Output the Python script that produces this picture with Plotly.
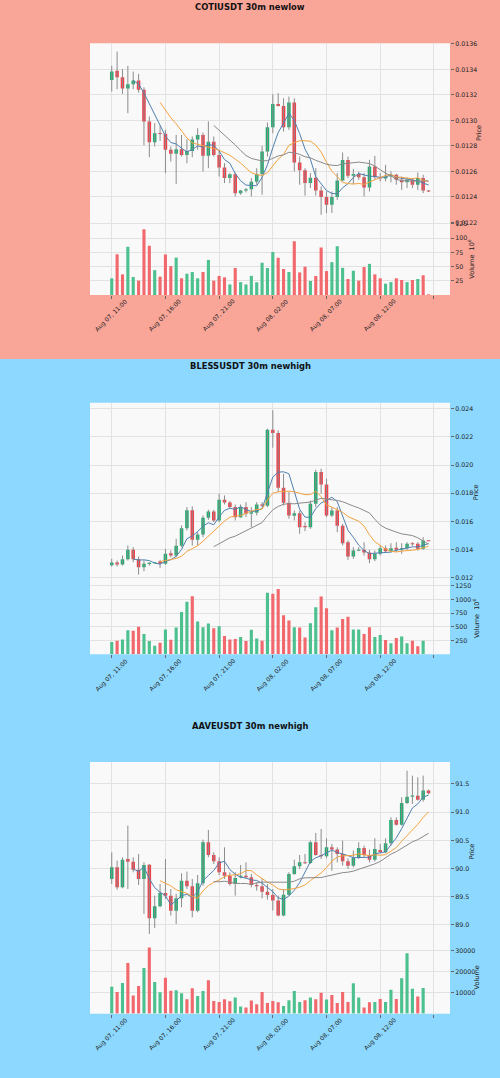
import pandas as pd
import plotly.graph_objects as go

W, H = 500, 1078
SEC = H / 3.0

# ---------------- data ----------------
tick_index = [0, 10, 20, 30, 40, 50, 60]
tick_text = ["Aug 07, 11:00", "Aug 07, 16:00", "Aug 07, 21:00",
             "Aug 08, 02:00", "Aug 08, 07:00", "Aug 08, 12:00", ""]
ma_windows = [5, 10, 20]

coti_open = [0.013318, 0.013389, 0.013339, 0.01325, 0.013284, 0.013313, 0.01324, 0.012992, 0.01283, 0.012902,
             0.012895, 0.01277, 0.01274, 0.012775, 0.01273, 0.01276, 0.01285, 0.012887, 0.012723, 0.012834,
             0.01273, 0.012631, 0.012548, 0.012579, 0.01243, 0.01245, 0.01246, 0.01252, 0.01258, 0.012757,
             0.012947, 0.01313, 0.013114, 0.012947, 0.01314, 0.01267, 0.01261, 0.01251, 0.01255, 0.01245,
             0.0124, 0.01234, 0.0124, 0.01253, 0.01269, 0.012566, 0.01258, 0.012555, 0.012475, 0.01264,
             0.012555, 0.012545, 0.01256, 0.012575, 0.012535, 0.012516, 0.012535, 0.012495, 0.012548, 0.01245]
coti_high = [0.013428, 0.01354, 0.013404, 0.013428, 0.013383, 0.013365, 0.01326, 0.013031, 0.012979, 0.01296,
             0.012926, 0.012796, 0.012887, 0.012887, 0.012853, 0.012874, 0.012939, 0.012905, 0.012992, 0.012874,
             0.01277, 0.012665, 0.012587, 0.012592, 0.012456, 0.01247, 0.012548, 0.012626, 0.012801, 0.012984,
             0.013206, 0.013214, 0.013174, 0.013187, 0.013174, 0.012717, 0.012626, 0.012587, 0.012626, 0.012483,
             0.012443, 0.012443, 0.012587, 0.012749, 0.012717, 0.01262, 0.0126, 0.012587, 0.012691, 0.012723,
             0.012587, 0.012652, 0.0126, 0.012582, 0.012561, 0.012553, 0.012548, 0.012592, 0.012574, 0.012455]
coti_low = [0.013227, 0.013245, 0.013208, 0.013057, 0.013245, 0.013219, 0.012806, 0.012712, 0.012796, 0.01284,
            0.012587, 0.012678, 0.012503, 0.012717, 0.012665, 0.012712, 0.01277, 0.0126, 0.012626, 0.012717,
            0.012561, 0.012509, 0.012509, 0.012404, 0.012417, 0.012436, 0.012404, 0.012496, 0.012417, 0.012717,
            0.0129, 0.013109, 0.012913, 0.012926, 0.0126, 0.012496, 0.01241, 0.01247, 0.01241, 0.012261,
            0.012274, 0.012274, 0.012378, 0.012522, 0.012548, 0.0125, 0.012535, 0.012404, 0.012443, 0.012535,
            0.012522, 0.012522, 0.012514, 0.012496, 0.012456, 0.01247, 0.01247, 0.012456, 0.01243, 0.01244]
coti_close = [0.013383, 0.013339, 0.01325, 0.013284, 0.013313, 0.01324, 0.012992, 0.01283, 0.0129, 0.012895,
              0.01277, 0.01274, 0.012775, 0.01273, 0.01276, 0.01285, 0.012887, 0.012723, 0.012834, 0.01273,
              0.012631, 0.012548, 0.012579, 0.01243, 0.01245, 0.01246, 0.01252, 0.01258, 0.012757, 0.012947,
              0.01313, 0.013114, 0.012947, 0.01314, 0.01267, 0.01261, 0.01251, 0.01255, 0.01245, 0.0124,
              0.01234, 0.0124, 0.01253, 0.01269, 0.012566, 0.01258, 0.012555, 0.012475, 0.01264, 0.012555,
              0.012545, 0.01256, 0.012575, 0.012535, 0.012516, 0.012535, 0.012495, 0.012548, 0.01245, 0.012445]
coti_volume = [29.7, 72, 36.6, 85, 32, 25.6, 115.7, 86.6, 44, 32.6,
               71.5, 51, 66, 29.7, 37.8, 40.7, 29.7, 40.7, 62, 25.6,
               33.7, 31.4, 19, 47.7, 23, 19, 34, 22.7, 57, 47.7,
               76, 65.7, 46, 40.7, 94.8, 40, 50, 25, 33.7, 83.7,
               42.4, 58, 86, 48, 28.5, 43, 25.6, 49.4, 55, 36.6,
               29.7, 20.3, 23, 29.7, 26.7, 23, 26.7, 28.5, 35, 1.5]

bless_open = [0.012899, 0.013088, 0.012946, 0.013325, 0.013988, 0.013325, 0.012757, 0.012994, 0.013065, 0.013159,
              0.012994, 0.013751, 0.013585, 0.014272, 0.015526, 0.016804, 0.014698, 0.015076, 0.01626, 0.01671,
              0.016071, 0.017538, 0.017349, 0.017017, 0.016307, 0.017017, 0.016544, 0.016615, 0.017207, 0.017112,
              0.022509, 0.022272, 0.01839, 0.017325, 0.016402, 0.016591, 0.015668, 0.015597, 0.017254, 0.019503,
              0.018627, 0.016426, 0.016781, 0.015692, 0.014532, 0.013514, 0.01394, 0.013988, 0.013798, 0.013325,
              0.013704, 0.014106, 0.013893, 0.01413, 0.013988, 0.014106, 0.014461, 0.014414, 0.014059, 0.01465]
bless_high = [0.013349, 0.01323, 0.013585, 0.014295, 0.014177, 0.013514, 0.01323, 0.013112, 0.013112, 0.013278,
              0.014059, 0.01394, 0.014769, 0.015716, 0.017017, 0.017065, 0.015242, 0.016426, 0.016828, 0.016828,
              0.017964, 0.017846, 0.017444, 0.017207, 0.017207, 0.017372, 0.017017, 0.017372, 0.017372, 0.02258,
              0.023882, 0.022461, 0.019384, 0.018082, 0.016781, 0.016781, 0.015952, 0.017491, 0.019668, 0.019739,
              0.019029, 0.017017, 0.017017, 0.015834, 0.01465, 0.014177, 0.014177, 0.014532, 0.013988, 0.01394,
              0.014295, 0.014295, 0.014461, 0.014532, 0.014461, 0.014532, 0.014532, 0.014532, 0.014887, 0.014674]
bless_low = [0.012804, 0.012804, 0.012875, 0.01323, 0.013112, 0.012236, 0.012473, 0.012875, 0.013041, 0.01271,
             0.012923, 0.01346, 0.013467, 0.014177, 0.01536, 0.014295, 0.014295, 0.014887, 0.016118, 0.015952,
             0.015952, 0.017207, 0.016899, 0.016071, 0.01625, 0.016307, 0.015597, 0.016426, 0.017017, 0.017017,
             0.021231, 0.018082, 0.017136, 0.016189, 0.016071, 0.015124, 0.015313, 0.015479, 0.017017, 0.017964,
             0.016307, 0.016307, 0.015242, 0.014295, 0.013278, 0.013349, 0.013893, 0.013585, 0.013041, 0.013183,
             0.013585, 0.013822, 0.013822, 0.013822, 0.013704, 0.013988, 0.014272, 0.01394, 0.013988, 0.014603]
bless_close = [0.013088, 0.012946, 0.013325, 0.013988, 0.013325, 0.012757, 0.012994, 0.013065, 0.013088, 0.012994,
               0.013704, 0.013585, 0.014272, 0.015526, 0.016804, 0.014698, 0.015076, 0.01626, 0.01671, 0.016071,
               0.017538, 0.017349, 0.017017, 0.016307, 0.017017, 0.016544, 0.016662, 0.017207, 0.017112, 0.022509,
               0.022272, 0.01839, 0.017325, 0.016426, 0.016591, 0.015597, 0.015597, 0.017254, 0.019503, 0.018627,
               0.016426, 0.016781, 0.015692, 0.014461, 0.013514, 0.01394, 0.013988, 0.013798, 0.013325, 0.013704,
               0.014106, 0.013893, 0.014106, 0.013988, 0.014106, 0.014414, 0.01439, 0.014059, 0.01465, 0.014626]
bless_volume = [222, 246, 270, 439, 427, 499, 367, 240, 156, 210,
                451, 264, 487, 769, 956, 1058, 595, 493, 559, 475,
                511, 331, 270, 276, 312, 240, 445, 288, 246, 1124,
                1106, 1190, 709, 613, 493, 487, 306, 565, 859, 1052,
                841, 439, 487, 643, 685, 451, 451, 367, 493, 312,
                349, 258, 198, 294, 325, 198, 246, 144, 246, 4]

aave_open = [89.816, 90.022, 89.668, 90.17, 90.123, 89.981, 89.816, 90.07, 89.118, 89.331,
             89.567, 89.52, 89.254, 89.473, 89.786, 89.686, 89.254, 89.739, 90.466, 90.241,
             90.129, 89.934, 89.875, 89.727, 89.845, 89.875, 89.845, 89.709, 89.686, 89.591,
             89.532, 89.432, 89.166, 89.538, 89.904, 90.04, 90.111, 90.099, 90.466, 90.241,
             90.218, 90.377, 90.336, 90.259, 90.129, 90.052, 90.188, 90.365, 90.241, 90.158,
             90.33, 90.288, 90.448, 90.862, 90.779, 91.163, 91.275, 91.293, 91.222, 91.382]
aave_high = [90.288, 90.141, 90.2, 90.761, 90.2, 90.259, 90.111, 90.082, 89.52, 89.727,
             90.17, 89.638, 89.55, 89.916, 89.946, 89.816, 89.887, 90.513, 90.684, 90.288,
             90.2, 90.377, 89.934, 89.934, 90.064, 90.111, 89.904, 89.757, 89.816, 89.727,
             89.638, 89.52, 89.638, 89.934, 90.158, 90.241, 90.259, 90.495, 90.631, 90.702,
             90.537, 90.436, 90.377, 90.495, 90.182, 90.318, 90.466, 90.407, 90.336, 90.537,
             90.436, 90.537, 90.909, 90.909, 91.264, 91.736, 91.648, 91.618, 91.648, 91.4]
aave_low = [89.727, 89.627, 89.65, 89.638, 89.934, 89.709, 89.195, 88.84, 88.947, 89.313,
            89.461, 89.166, 89.018, 89.313, 89.638, 89.136, 89.225, 89.697, 90.2, 90.082,
            89.887, 89.816, 89.697, 89.52, 89.827, 89.816, 89.668, 89.609, 89.473, 89.449,
            89.254, 89.154, 89.154, 89.52, 89.887, 89.993, 90.082, 90.082, 90.229, 90.17,
            90.182, 89.963, 90.111, 90.052, 89.993, 90.022, 90.17, 90.2, 90.111, 90.123,
            90.277, 90.277, 90.407, 90.761, 90.761, 91.145, 91.145, 91.204, 91.187, 91.317]
aave_close = [90.022, 89.668, 90.158, 90.123, 89.981, 89.816, 90.064, 89.118, 89.331, 89.567,
              89.52, 89.254, 89.473, 89.786, 89.686, 89.254, 89.739, 90.466, 90.241, 90.129,
              89.934, 89.875, 89.727, 89.833, 89.875, 89.845, 89.709, 89.686, 89.591, 89.532,
              89.432, 89.166, 89.538, 89.904, 90.04, 90.111, 90.099, 90.466, 90.241, 90.218,
              90.377, 90.336, 90.259, 90.129, 90.052, 90.188, 90.365, 90.241, 90.158, 90.348,
              90.288, 90.448, 90.862, 90.779, 91.163, 91.275, 91.293, 91.222, 91.382, 91.335]
aave_volume = [12756, 10236, 14488, 23937, 8504, 13071, 21575, 31338, 14961, 10079,
               17008, 10866, 11024, 9606, 6772, 11969, 8346, 10709, 15748, 5984,
               5512, 6772, 5827, 7559, 3307, 2835, 6142, 4409, 10236, 5039,
               5984, 5354, 3622, 6299, 10709, 5512, 6299, 7559, 6772, 9921,
               6614, 8819, 5039, 10236, 5512, 14331, 7559, 2835, 5354, 5512,
               6929, 5512, 11339, 6929, 16693, 28661, 11811, 8031, 12126, 0]

# ---------------- style ----------------
FONT = "DejaVu Sans"
SALMON = "#F9A598"
SKY = "#8CD8FE"
AX_BG = "#F9F9F9"
GRID = "#E2E2E2"
UP = "#1FAF72"
DOWN = "#F2414B"
UP_VOL = "#4CC08E"
DOWN_VOL = "#F1686D"
WICK = "#8C8C8C"
MA_COLORS = ["#4F7FAE", "#F2A23F", "#8A8A8A"]
TXT = "#222222"

charts = [
    dict(title="COTIUSDT 30m newlow", o=coti_open, h=coti_high, l=coti_low, c=coti_close, v=coti_volume,
         bg=SALMON, prange=[0.0122, 0.013605], pticks=[0.0122 + 0.0002 * k for k in range(8)], pfmt=".4f",
         vrange=[0.4, 127.6], vticks=[25, 50, 75, 100, 125], vlabel="Volume  10<sup>6</sup>",
         price_lx=479, vol_lx=472),
    dict(title="BLESSUSDT 30m newhigh", o=bless_open, h=bless_high, l=bless_low, c=bless_close, v=bless_volume,
         bg=SKY, prange=[0.01172, 0.024426], pticks=[0.012, 0.014, 0.016, 0.018, 0.020, 0.022, 0.024], pfmt=".3f",
         vrange=[-3, 1322], vticks=[250, 500, 750, 1000, 1250], vlabel="Volume  10<sup>6</sup>",
         price_lx=476, vol_lx=476),
    dict(title="AAVEUSDT 30m newhigh", o=aave_open, h=aave_high, l=aave_low, c=aave_close, v=aave_volume,
         bg=SKY, prange=[88.713, 91.89], pticks=[89.0, 89.5, 90.0, 90.5, 91.0, 91.5], pfmt=".1f",
         vrange=[-70, 34350], vticks=[10000, 20000, 30000], vlabel="Volume",
         price_lx=472, vol_lx=477),
]

X_DOM = [90 / W, 450 / W]
X_RANGE = [-4.05, 63.0]
P_TOP, P_BOT, V_BOT = 43.3, 222.5, 295.0


def yp(px):
    return 1 - px / H


fig = go.Figure()
layout = dict(template="none", width=W, height=H, autosize=False,
              margin=dict(l=0, r=0, t=0, b=0, pad=0, autoexpand=False), showlegend=False,
              paper_bgcolor=SKY, plot_bgcolor="rgba(0,0,0,0)", barmode="overlay",
              font=dict(family=FONT, color=TXT, size=7))
shapes = []
annotations = []

for k, ch in enumerate(charts):
    off = k * SEC
    n = len(ch["c"])
    xs = list(range(n))
    ip, iv = 2 * k + 1, 2 * k + 2
    xp, yp_, xv, yv = f"x{ip}", f"y{ip}", f"x{iv}", f"y{iv}"

    # section background + axes backgrounds
    y_hi = yp(off) + (0.01 if k == 0 else 0)
    y_lo = yp(off + SEC) - (0.01 if k == 2 else 0)
    shapes.append(dict(type="rect", xref="paper", yref="paper", x0=-0.02, x1=1.02,
                       y0=y_lo, y1=y_hi, fillcolor=ch["bg"], line_width=0, layer="below"))
    shapes.append(dict(type="rect", xref="paper", yref="paper", x0=X_DOM[0], x1=X_DOM[1],
                       y0=yp(off + V_BOT), y1=yp(off + P_TOP), fillcolor=AX_BG, line_width=0, layer="below"))

    # wicks
    wx, wy = [], []
    for i in xs:
        wx += [i, i, None]
        wy += [ch["l"][i], ch["h"][i], None]
    fig.add_trace(go.Scatter(x=wx, y=wy, mode="lines", line=dict(color=WICK, width=1),
                             xaxis=xp, yaxis=yp_, hoverinfo="skip"))

    # bodies
    pr = ch["prange"][1] - ch["prange"][0]
    minh = pr / 170.0
    base, hgt, col = [], [], []
    for i in xs:
        o, c = ch["o"][i], ch["c"][i]
        lo = min(o, c)
        hh = abs(c - o)
        if hh < minh:
            lo = (o + c) / 2 - minh / 2
            hh = minh
        base.append(lo)
        hgt.append(hh)
        col.append(UP if c >= o else DOWN)
    fig.add_trace(go.Bar(x=xs, y=hgt, base=base, width=0.66, marker=dict(color=col, line=dict(width=0)),
                         xaxis=xp, yaxis=yp_, hoverinfo="skip"))

    # moving averages
    cs = pd.Series(ch["c"])
    for w, mc in zip(ma_windows, MA_COLORS):
        ma = cs.rolling(w).mean()
        fig.add_trace(go.Scatter(x=xs, y=ma, mode="lines", line=dict(color=mc, width=1),
                                 xaxis=xp, yaxis=yp_, hoverinfo="skip"))

    # volume
    vcol = [UP_VOL if ch["c"][i] >= ch["o"][i] else DOWN_VOL for i in xs]
    fig.add_trace(go.Bar(x=xs, y=ch["v"], width=0.58, marker=dict(color=vcol, line=dict(width=0)),
                         xaxis=xv, yaxis=yv, hoverinfo="skip"))

    common_x = dict(domain=X_DOM, range=X_RANGE, tickvals=tick_index, showticklabels=False,
                    showgrid=True, gridcolor=GRID, gridwidth=1, zeroline=False, showline=False,
                    automargin=False)
    layout[f"xaxis{ip}"] = dict(common_x, anchor=yp_, ticks="")
    layout[f"xaxis{iv}"] = dict(common_x, anchor=yv, ticks="outside", ticklen=3, tickcolor="#666666",
                                matches=xp)
    tickfont = dict(family=FONT, size=6.3, color=TXT)
    layout[f"yaxis{ip}"] = dict(domain=[yp(off + P_BOT), yp(off + P_TOP)], range=ch["prange"],
                                anchor=xp, side="right", tickvals=ch["pticks"], tickformat=ch["pfmt"],
                                ticks="outside", ticklen=3, tickcolor="#666666", tickfont=tickfont,
                                showgrid=True, gridcolor=GRID, zeroline=False, showline=False,
                                automargin=False)
    layout[f"yaxis{iv}"] = dict(domain=[yp(off + V_BOT), yp(off + P_BOT)], range=ch["vrange"],
                                anchor=xv, side="right", tickvals=ch["vticks"], tickformat="d",
                                ticks="outside", ticklen=3, tickcolor="#666666", tickfont=tickfont,
                                showgrid=True, gridcolor=GRID, zeroline=False, showline=False,
                                automargin=False)

    # title
    annotations.append(dict(text=f"<b>{ch['title']}</b>", xref="paper", yref="paper",
                            x=0.5, y=yp(off + 7), xanchor="center", yanchor="middle", showarrow=False,
                            font=dict(family=FONT, size=8.4, color="#111111")))
    # axis labels
    annotations.append(dict(text="Price", xref="paper", yref="paper", x=ch["price_lx"] / W,
                            y=yp(off + (P_TOP + P_BOT) / 2), textangle=-90, showarrow=False,
                            xanchor="center", yanchor="middle", font=dict(family=FONT, size=6.5, color=TXT)))
    annotations.append(dict(text=ch["vlabel"], xref="paper", yref="paper", x=ch["vol_lx"] / W,
                            y=yp(off + (P_BOT + V_BOT) / 2), textangle=-90, showarrow=False,
                            xanchor="center", yanchor="middle", font=dict(family=FONT, size=6.5, color=TXT)))
    # x tick labels (rotated, centred on tick like matplotlib)
    for tv, tt in zip(tick_index, tick_text):
        if not tt:
            continue
        annotations.append(dict(text=tt, xref=xv, yref="paper", x=tv, y=yp(off + 315.5),
                                textangle=-45, showarrow=False, xanchor="center", yanchor="middle",
                                font=dict(family=FONT, size=6, color=TXT)))

layout["shapes"] = shapes
layout["annotations"] = annotations
fig.update_layout(**layout)
fig.write_html(
    "out.html",
    config={"displayModeBar": False, "staticPlot": True},
    post_script=(
        "document.documentElement.style.margin='0';document.body.style.margin='0';"
        "document.body.style.padding='0';document.body.style.overflow='hidden';"
        "var d=document.getElementById('{plot_id}');d.style.position='absolute';"
        "d.style.top='0px';d.style.left='0px';"
    ),
)
